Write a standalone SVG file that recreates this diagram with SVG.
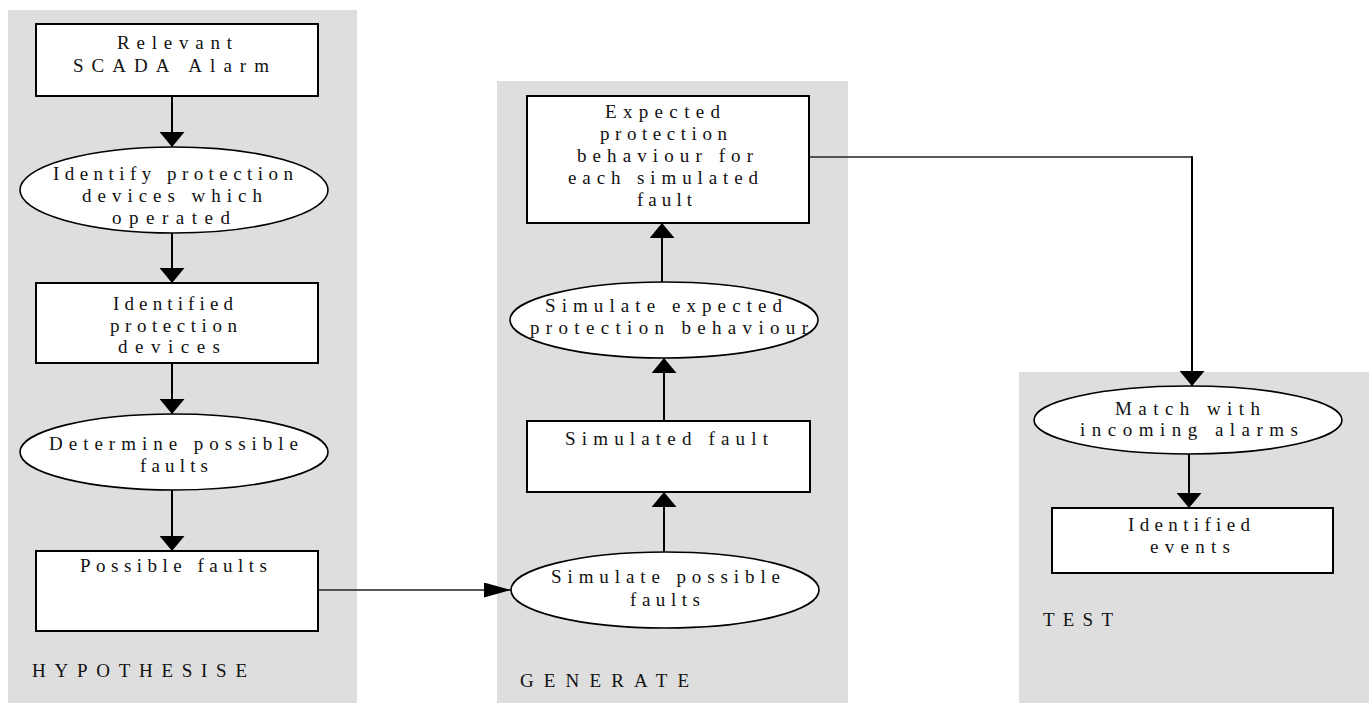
<svg xmlns="http://www.w3.org/2000/svg" width="1369" height="703" viewBox="0 0 1369 703">
  <style>
    .panel { fill: #dedede; stroke: none; }
    .box { fill: #ffffff; stroke: #000000; stroke-width: 2; }
    .oval { fill: #ffffff; stroke: #000000; stroke-width: 1.6; }
    .lbl { font-family: "Liberation Serif", "Times New Roman", serif; font-size: 19px; fill: #111111; }
    .flow { fill: none; stroke: #000000; stroke-width: 2; }
    .flow-thin { fill: none; stroke: #222222; stroke-width: 1.5; }
  </style>
  <defs>
    <marker id="head" viewBox="0 0 15 25" markerWidth="15" markerHeight="25" refX="15" refY="12.5" orient="auto" markerUnits="userSpaceOnUse">
      <path d="M0,0 L15,12.5 L0,25 Z" fill="#000000"/>
    </marker>
    <marker id="head-slim" viewBox="0 0 27 15" markerWidth="27" markerHeight="15" refX="27" refY="7.5" orient="auto" markerUnits="userSpaceOnUse">
      <path d="M0,0 L27,7.5 L0,15 Z" fill="#000000"/>
    </marker>
  </defs>

  <!-- swim-lane backgrounds -->
  <g id="lanes">
    <rect class="panel" x="8" y="10" width="349" height="693"/>
    <rect class="panel" x="497" y="81" width="351" height="622"/>
    <rect class="panel" x="1019" y="372" width="350" height="331"/>
    <text class="lbl" x="32" y="677" textLength="215" lengthAdjust="spacing">HYPOTHESISE</text>
    <text class="lbl" x="520" y="687" textLength="169" lengthAdjust="spacing">GENERATE</text>
    <text class="lbl" x="1043" y="626" textLength="70" lengthAdjust="spacing">TEST</text>
  </g>

  <!-- connectors -->
  <g id="connectors">
    <line class="flow" x1="172" y1="97" x2="172" y2="147" marker-end="url(#head)"/>
    <line class="flow" x1="172" y1="233" x2="172" y2="283" marker-end="url(#head)"/>
    <line class="flow" x1="172" y1="363" x2="172" y2="414" marker-end="url(#head)"/>
    <line class="flow" x1="172" y1="490" x2="172" y2="551" marker-end="url(#head)"/>
    <line class="flow-thin" x1="318" y1="590" x2="511" y2="590" marker-end="url(#head-slim)"/>
    <line class="flow" x1="664" y1="552" x2="664" y2="492" marker-end="url(#head)"/>
    <line class="flow" x1="664" y1="421" x2="664" y2="358" marker-end="url(#head)"/>
    <line class="flow" x1="662" y1="282" x2="662" y2="223" marker-end="url(#head)"/>
    <line class="flow-thin" x1="809" y1="157" x2="1192" y2="157"/>
    <line class="flow" x1="1192" y1="156.25" x2="1192" y2="386" marker-end="url(#head)"/>
    <line class="flow" x1="1189" y1="454" x2="1189" y2="508" marker-end="url(#head)"/>
  </g>

  <!-- HYPOTHESISE lane -->
  <g id="scada-alarm">
    <rect class="box" x="36" y="24" width="282" height="72"/>
    <text class="lbl" x="117" y="49" textLength="115" lengthAdjust="spacing">Relevant</text>
    <text class="lbl" x="73" y="72" textLength="196" lengthAdjust="spacing">SCADA Alarm</text>
  </g>
  <g id="identify-devices">
    <ellipse class="oval" cx="174" cy="190" rx="154" ry="43"/>
    <text class="lbl" x="53" y="180" textLength="240" lengthAdjust="spacing">Identify protection</text>
    <text class="lbl" x="82" y="202" textLength="180" lengthAdjust="spacing">devices which</text>
    <text class="lbl" x="112" y="224" textLength="118" lengthAdjust="spacing">operated</text>
  </g>
  <g id="identified-devices">
    <rect class="box" x="36" y="283" width="282" height="80"/>
    <text class="lbl" x="113" y="310" textLength="120" lengthAdjust="spacing">Identified</text>
    <text class="lbl" x="110" y="332" textLength="127" lengthAdjust="spacing">protection</text>
    <text class="lbl" x="118" y="353" textLength="102" lengthAdjust="spacing">devices</text>
  </g>
  <g id="determine-faults">
    <ellipse class="oval" cx="174" cy="452" rx="154" ry="38"/>
    <text class="lbl" x="49" y="450" textLength="249" lengthAdjust="spacing">Determine possible</text>
    <text class="lbl" x="140" y="472" textLength="68" lengthAdjust="spacing">faults</text>
  </g>
  <g id="possible-faults">
    <rect class="box" x="36" y="551" width="282" height="80"/>
    <text class="lbl" x="80" y="572" textLength="187" lengthAdjust="spacing">Possible faults</text>
  </g>

  <!-- GENERATE lane -->
  <g id="expected-behaviour">
    <rect class="box" x="527" y="96" width="282" height="127"/>
    <text class="lbl" x="605" y="118" textLength="115" lengthAdjust="spacing">Expected</text>
    <text class="lbl" x="600" y="140" textLength="127" lengthAdjust="spacing">protection</text>
    <text class="lbl" x="577" y="162" textLength="176" lengthAdjust="spacing">behaviour for</text>
    <text class="lbl" x="568" y="184" textLength="190" lengthAdjust="spacing">each simulated</text>
    <text class="lbl" x="637" y="206" textLength="55" lengthAdjust="spacing">fault</text>
  </g>
  <g id="simulate-behaviour">
    <ellipse class="oval" cx="664" cy="320" rx="154" ry="38"/>
    <text class="lbl" x="545" y="312" textLength="237" lengthAdjust="spacing">Simulate expected</text>
    <text class="lbl" x="530" y="334" textLength="278" lengthAdjust="spacing">protection behaviour</text>
  </g>
  <g id="simulated-fault">
    <rect class="box" x="527" y="421" width="283" height="71"/>
    <text class="lbl" x="565" y="445" textLength="203" lengthAdjust="spacing">Simulated fault</text>
  </g>
  <g id="simulate-faults">
    <ellipse class="oval" cx="665" cy="590" rx="154" ry="38"/>
    <text class="lbl" x="551" y="583" textLength="229" lengthAdjust="spacing">Simulate possible</text>
    <text class="lbl" x="630" y="606" textLength="70" lengthAdjust="spacing">faults</text>
  </g>

  <!-- TEST lane -->
  <g id="match-alarms">
    <ellipse class="oval" cx="1188" cy="420" rx="154" ry="34"/>
    <text class="lbl" x="1115" y="415" textLength="145" lengthAdjust="spacing">Match with</text>
    <text class="lbl" x="1080" y="436" textLength="218" lengthAdjust="spacing">incoming alarms</text>
  </g>
  <g id="identified-events">
    <rect class="box" x="1052" y="508" width="281" height="65"/>
    <text class="lbl" x="1128" y="531" textLength="122" lengthAdjust="spacing">Identified</text>
    <text class="lbl" x="1150" y="553" textLength="80" lengthAdjust="spacing">events</text>
  </g>
</svg>
